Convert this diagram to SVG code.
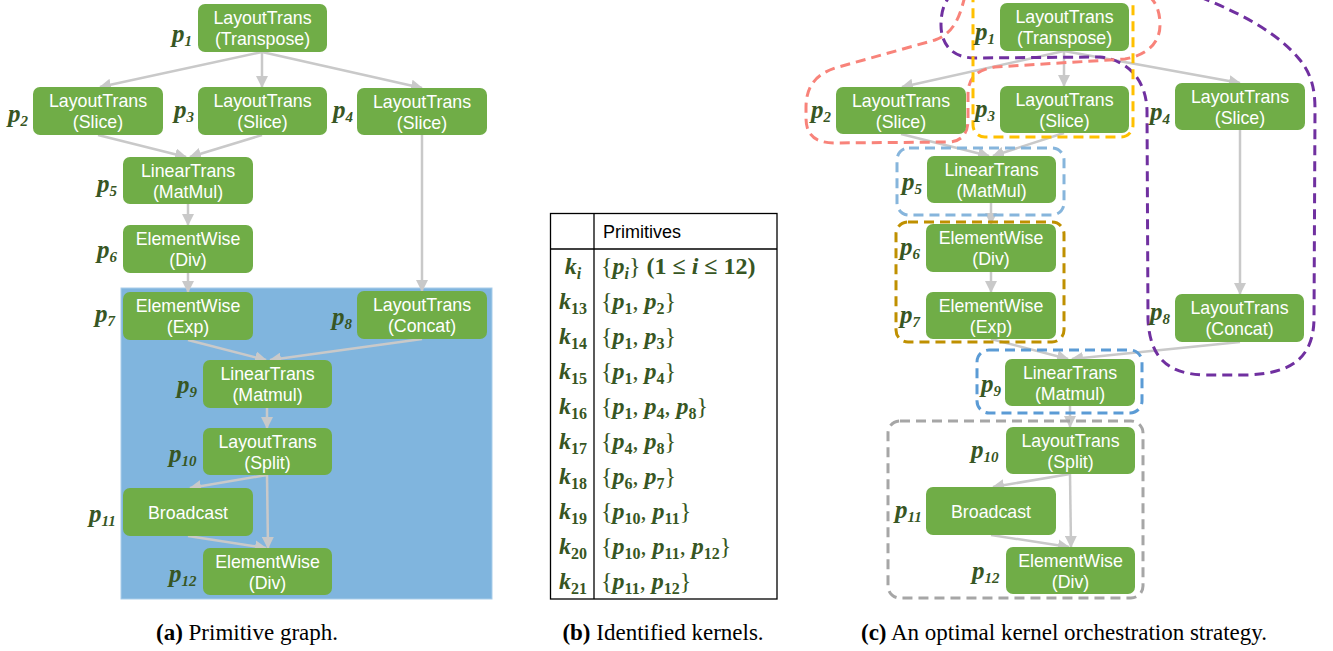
<svg xmlns="http://www.w3.org/2000/svg" width="1333" height="651" viewBox="0 0 1333 651">
<defs>
<style>
.n{fill:#70ad47}
.t{font-family:"Liberation Sans",Arial,sans-serif;font-size:17.8px;fill:#fff;text-anchor:middle}
.lb{font-family:"Liberation Serif","DejaVu Serif",serif;font-size:25px;font-weight:bold;font-style:italic;fill:#375623}
.lb tspan{font-size:15px}
.e{stroke:#c9c9c9;stroke-width:2.5;fill:none;marker-end:url(#ah)}
.k{fill:none;stroke-width:3;stroke-dasharray:10 6}
.tb{font-family:"Liberation Serif","DejaVu Serif",serif;font-size:24px;fill:#375623}
.kk{font-weight:bold;font-style:italic;text-anchor:middle}
.pv{font-weight:bold;font-style:italic}
.sb{font-size:16px;font-weight:bold;font-style:normal}
.bd{font-weight:bold}
.cap{font-family:"Liberation Serif","DejaVu Serif",serif;font-size:23px;fill:#000;text-anchor:middle}
</style>
<marker id="ah" viewBox="0 0 12 12" refX="11" refY="6" markerWidth="12" markerHeight="12" markerUnits="userSpaceOnUse" orient="auto">
<path d="M0,0 L12,6 L0,12 z" fill="#c9c9c9"/>
</marker>
</defs>

<rect x="121" y="288" width="371" height="311" fill="#80b5de" stroke="#a9cdea" stroke-width="1"/>

<g id="connectors-a">
<line class="e" x1="262" y1="52" x2="100" y2="87"/>
<line class="e" x1="262" y1="52" x2="262" y2="87"/>
<line class="e" x1="262" y1="52" x2="422" y2="88"/>
<line class="e" x1="98" y1="135" x2="186" y2="157"/>
<line class="e" x1="262" y1="135" x2="190" y2="157"/>
<line class="e" x1="188" y1="204" x2="188" y2="225"/>
<line class="e" x1="188" y1="273" x2="188" y2="292"/>
<line class="e" x1="422" y1="135" x2="422" y2="291"/>
<line class="e" x1="188" y1="340" x2="266" y2="360"/>
<line class="e" x1="422" y1="339" x2="270" y2="360"/>
<line class="e" x1="267" y1="408" x2="267" y2="428"/>
<line class="e" x1="267" y1="475" x2="190" y2="488"/>
<line class="e" x1="267" y1="475" x2="268" y2="548"/>
<line class="e" x1="188" y1="536" x2="266" y2="548"/>
</g>

<g id="a-p1"><rect class="n" x="198" y="4" width="129" height="48" rx="7"/><text class="t" x="262.5" y="24">LayoutTrans</text><text class="t" x="262.5" y="45">(Transpose)</text><text class="lb" x="172" y="42">p<tspan dy="4">1</tspan></text></g>
<g id="a-p2"><rect class="n" x="33" y="87" width="130" height="48" rx="7"/><text class="t" x="98" y="107">LayoutTrans</text><text class="t" x="98" y="128">(Slice)</text><text class="lb" x="8" y="122">p<tspan dy="4">2</tspan></text></g>
<g id="a-p3"><rect class="n" x="198" y="87" width="129" height="48" rx="7"/><text class="t" x="262.5" y="107">LayoutTrans</text><text class="t" x="262.5" y="128">(Slice)</text><text class="lb" x="174" y="118">p<tspan dy="4">3</tspan></text></g>
<g id="a-p4"><rect class="n" x="357" y="88" width="130" height="47" rx="7"/><text class="t" x="422" y="108">LayoutTrans</text><text class="t" x="422" y="129">(Slice)</text><text class="lb" x="333" y="118">p<tspan dy="4">4</tspan></text></g>
<g id="a-p5"><rect class="n" x="123" y="157" width="130" height="47" rx="7"/><text class="t" x="188" y="177">LinearTrans</text><text class="t" x="188" y="198">(MatMul)</text><text class="lb" x="97" y="192">p<tspan dy="4">5</tspan></text></g>
<g id="a-p6"><rect class="n" x="123" y="225" width="130" height="48" rx="7"/><text class="t" x="188" y="245">ElementWise</text><text class="t" x="188" y="266">(Div)</text><text class="lb" x="97" y="258">p<tspan dy="4">6</tspan></text></g>
<g id="a-p7"><rect class="n" x="123" y="292" width="130" height="48" rx="7"/><text class="t" x="188" y="312">ElementWise</text><text class="t" x="188" y="333">(Exp)</text><text class="lb" x="95" y="322">p<tspan dy="4">7</tspan></text></g>
<g id="a-p8"><rect class="n" x="357" y="291" width="130" height="48" rx="7"/><text class="t" x="422" y="311">LayoutTrans</text><text class="t" x="422" y="332">(Concat)</text><text class="lb" x="332" y="325">p<tspan dy="4">8</tspan></text></g>
<g id="a-p9"><rect class="n" x="203" y="360" width="129" height="48" rx="7"/><text class="t" x="267.5" y="380">LinearTrans</text><text class="t" x="267.5" y="401">(Matmul)</text><text class="lb" x="177" y="393">p<tspan dy="4">9</tspan></text></g>
<g id="a-p10"><rect class="n" x="203" y="428" width="129" height="47" rx="7"/><text class="t" x="267.5" y="448">LayoutTrans</text><text class="t" x="267.5" y="469">(Split)</text><text class="lb" x="169" y="462">p<tspan dy="4">10</tspan></text></g>
<g id="a-p11"><rect class="n" x="123" y="488" width="130" height="48" rx="7"/><text class="t" x="188" y="519">Broadcast</text><text class="lb" x="89" y="522">p<tspan dy="4">11</tspan></text></g>
<g id="a-p12"><rect class="n" x="203" y="548" width="129" height="47" rx="7"/><text class="t" x="267.5" y="568">ElementWise</text><text class="t" x="267.5" y="589">(Div)</text><text class="lb" x="169" y="582">p<tspan dy="4">12</tspan></text></g>

<g id="table">
<rect x="550.5" y="213.5" width="226.5" height="385.5" fill="#fff" stroke="#000" stroke-width="1.3"/>
<line x1="594" y1="213.5" x2="594" y2="599" stroke="#000" stroke-width="1.3"/>
<line x1="550.5" y1="249" x2="777" y2="249" stroke="#000" stroke-width="1.3"/>
<text x="603" y="238" font-family="'Liberation Sans',Arial,sans-serif" font-size="18" fill="#000">Primitives</text>
<g class="tb">
<text class="kk" x="573" y="274">k<tspan class="pv" font-size="16" dy="5">i</tspan></text>
<text class="kk" x="573" y="309">k<tspan class="sb" dy="5">13</tspan></text>
<text class="kk" x="573" y="344">k<tspan class="sb" dy="5">14</tspan></text>
<text class="kk" x="573" y="379">k<tspan class="sb" dy="5">15</tspan></text>
<text class="kk" x="573" y="414">k<tspan class="sb" dy="5">16</tspan></text>
<text class="kk" x="573" y="449">k<tspan class="sb" dy="5">17</tspan></text>
<text class="kk" x="573" y="484">k<tspan class="sb" dy="5">18</tspan></text>
<text class="kk" x="573" y="519">k<tspan class="sb" dy="5">19</tspan></text>
<text class="kk" x="573" y="554">k<tspan class="sb" dy="5">20</tspan></text>
<text class="kk" x="573" y="589">k<tspan class="sb" dy="5">21</tspan></text>
<text x="601" y="274">{<tspan class="pv">p</tspan><tspan class="pv" font-size="16" dy="5">i</tspan><tspan dy="-5">} </tspan><tspan class="bd">(1 ≤ </tspan><tspan class="pv">i</tspan><tspan class="bd"> ≤ 12)</tspan></text>
<text x="601" y="309">{<tspan class="pv">p</tspan><tspan class="sb" dy="5">1</tspan><tspan dy="-5">, </tspan><tspan class="pv">p</tspan><tspan class="sb" dy="5">2</tspan><tspan dy="-5">}</tspan></text>
<text x="601" y="344">{<tspan class="pv">p</tspan><tspan class="sb" dy="5">1</tspan><tspan dy="-5">, </tspan><tspan class="pv">p</tspan><tspan class="sb" dy="5">3</tspan><tspan dy="-5">}</tspan></text>
<text x="601" y="379">{<tspan class="pv">p</tspan><tspan class="sb" dy="5">1</tspan><tspan dy="-5">, </tspan><tspan class="pv">p</tspan><tspan class="sb" dy="5">4</tspan><tspan dy="-5">}</tspan></text>
<text x="601" y="414">{<tspan class="pv">p</tspan><tspan class="sb" dy="5">1</tspan><tspan dy="-5">, </tspan><tspan class="pv">p</tspan><tspan class="sb" dy="5">4</tspan><tspan dy="-5">, </tspan><tspan class="pv">p</tspan><tspan class="sb" dy="5">8</tspan><tspan dy="-5">}</tspan></text>
<text x="601" y="449">{<tspan class="pv">p</tspan><tspan class="sb" dy="5">4</tspan><tspan dy="-5">, </tspan><tspan class="pv">p</tspan><tspan class="sb" dy="5">8</tspan><tspan dy="-5">}</tspan></text>
<text x="601" y="484">{<tspan class="pv">p</tspan><tspan class="sb" dy="5">6</tspan><tspan dy="-5">, </tspan><tspan class="pv">p</tspan><tspan class="sb" dy="5">7</tspan><tspan dy="-5">}</tspan></text>
<text x="601" y="519">{<tspan class="pv">p</tspan><tspan class="sb" dy="5">10</tspan><tspan dy="-5">, </tspan><tspan class="pv">p</tspan><tspan class="sb" dy="5">11</tspan><tspan dy="-5">}</tspan></text>
<text x="601" y="554">{<tspan class="pv">p</tspan><tspan class="sb" dy="5">10</tspan><tspan dy="-5">, </tspan><tspan class="pv">p</tspan><tspan class="sb" dy="5">11</tspan><tspan dy="-5">, </tspan><tspan class="pv">p</tspan><tspan class="sb" dy="5">12</tspan><tspan dy="-5">}</tspan></text>
<text x="601" y="589">{<tspan class="pv">p</tspan><tspan class="sb" dy="5">11</tspan><tspan dy="-5">, </tspan><tspan class="pv">p</tspan><tspan class="sb" dy="5">12</tspan><tspan dy="-5">}</tspan></text>
</g>
</g>

<g id="connectors-c">
<line class="e" x1="1064" y1="51" x2="902" y2="87"/>
<line class="e" x1="1064" y1="51" x2="1064" y2="86"/>
<line class="e" x1="1064" y1="51" x2="1240" y2="83"/>
<line class="e" x1="901" y1="134" x2="989" y2="156"/>
<line class="e" x1="1064" y1="133" x2="993" y2="156"/>
<line class="e" x1="991" y1="203" x2="991" y2="224"/>
<line class="e" x1="991" y1="272" x2="991" y2="292"/>
<line class="e" x1="1240" y1="130" x2="1240" y2="294"/>
<line class="e" x1="991" y1="339" x2="1068" y2="359"/>
<line class="e" x1="1240" y1="342" x2="1072" y2="359"/>
<line class="e" x1="1070" y1="406" x2="1070" y2="427"/>
<line class="e" x1="1070" y1="474" x2="993" y2="487"/>
<line class="e" x1="1070" y1="474" x2="1071" y2="547"/>
<line class="e" x1="991" y1="535" x2="1069" y2="547"/>
</g>

<g id="kernels">
<path class="k" stroke="#7030a0" d="M1200,-3 C1245,15 1280,35 1300,60 C1312,75 1315,90 1315,110 L1314,320 C1313,355 1295,374 1245,375 L1205,375 C1165,374 1150,355 1148,320 L1147,110 C1146,80 1128,60 1100,57 L975,58 C953,58 941,45 941,25 C941,12 944,3 950,-4"/>
<path class="k" stroke="#f8837a" d="M965,-4 C960,15 955,33 935,40 L835,68 C812,76 806,90 806,108 L806,118 C806,135 815,143 835,143 L950,142 C962,141 968,133 968,120 L968,95 C968,78 976,70 995,67 L1125,59 C1148,55 1160,42 1160,25 C1160,10 1155,0 1147,-5"/>
<rect class="k" stroke="#ffc000" x="973" y="-12" width="160" height="149" rx="12"/>
<rect class="k" stroke="#86b5dc" x="897" y="148" width="167" height="67" rx="12"/>
<rect class="k" stroke="#bf9000" x="896" y="222" width="168" height="120" rx="12"/>
<rect class="k" stroke="#5b9bd5" x="977" y="350" width="165" height="63" rx="12"/>
<rect class="k" stroke="#a6a6a6" x="888" y="421" width="255" height="177" rx="12"/>
</g>

<g id="c-p1"><rect class="n" x="1000" y="3" width="129" height="48" rx="7"/><text class="t" x="1064.5" y="23">LayoutTrans</text><text class="t" x="1064.5" y="44">(Transpose)</text><text class="lb" x="975" y="40">p<tspan dy="4">1</tspan></text></g>
<g id="c-p2"><rect class="n" x="836" y="87" width="130" height="47" rx="7"/><text class="t" x="901" y="107">LayoutTrans</text><text class="t" x="901" y="128">(Slice)</text><text class="lb" x="811" y="118">p<tspan dy="4">2</tspan></text></g>
<g id="c-p3"><rect class="n" x="1000" y="86" width="129" height="47" rx="7"/><text class="t" x="1064.5" y="106">LayoutTrans</text><text class="t" x="1064.5" y="127">(Slice)</text><text class="lb" x="975" y="117">p<tspan dy="4">3</tspan></text></g>
<g id="c-p4"><rect class="n" x="1175" y="83" width="130" height="47" rx="7"/><text class="t" x="1240" y="103">LayoutTrans</text><text class="t" x="1240" y="124">(Slice)</text><text class="lb" x="1150" y="120">p<tspan dy="4">4</tspan></text></g>
<g id="c-p5"><rect class="n" x="927" y="156" width="129" height="47" rx="7"/><text class="t" x="991.5" y="176">LinearTrans</text><text class="t" x="991.5" y="197">(MatMul)</text><text class="lb" x="902" y="190">p<tspan dy="4">5</tspan></text></g>
<g id="c-p6"><rect class="n" x="926" y="224" width="130" height="48" rx="7"/><text class="t" x="991" y="244">ElementWise</text><text class="t" x="991" y="265">(Div)</text><text class="lb" x="900" y="255">p<tspan dy="4">6</tspan></text></g>
<g id="c-p7"><rect class="n" x="926" y="292" width="130" height="47" rx="7"/><text class="t" x="991" y="312">ElementWise</text><text class="t" x="991" y="333">(Exp)</text><text class="lb" x="900" y="323">p<tspan dy="4">7</tspan></text></g>
<g id="c-p8"><rect class="n" x="1175" y="294" width="129" height="48" rx="7"/><text class="t" x="1239.5" y="314">LayoutTrans</text><text class="t" x="1239.5" y="335">(Concat)</text><text class="lb" x="1150" y="320">p<tspan dy="4">8</tspan></text></g>
<g id="c-p9"><rect class="n" x="1005" y="359" width="130" height="47" rx="7"/><text class="t" x="1070" y="379">LinearTrans</text><text class="t" x="1070" y="400">(Matmul)</text><text class="lb" x="981" y="392">p<tspan dy="4">9</tspan></text></g>
<g id="c-p10"><rect class="n" x="1006" y="427" width="129" height="47" rx="7"/><text class="t" x="1070.5" y="447">LayoutTrans</text><text class="t" x="1070.5" y="468">(Split)</text><text class="lb" x="971" y="458">p<tspan dy="4">10</tspan></text></g>
<g id="c-p11"><rect class="n" x="926" y="487" width="130" height="48" rx="7"/><text class="t" x="991" y="518">Broadcast</text><text class="lb" x="895" y="518">p<tspan dy="4">11</tspan></text></g>
<g id="c-p12"><rect class="n" x="1006" y="547" width="129" height="47" rx="7"/><text class="t" x="1070.5" y="567">ElementWise</text><text class="t" x="1070.5" y="588">(Div)</text><text class="lb" x="972" y="579">p<tspan dy="4">12</tspan></text></g>

<g id="captions">
<text class="cap" x="247" y="640"><tspan font-weight="bold">(a)</tspan> Primitive graph.</text>
<text class="cap" x="663" y="640"><tspan font-weight="bold">(b)</tspan> Identified kernels.</text>
<text class="cap" x="1064" y="640"><tspan font-weight="bold">(c)</tspan> An optimal kernel orchestration strategy.</text>
</g>
</svg>
